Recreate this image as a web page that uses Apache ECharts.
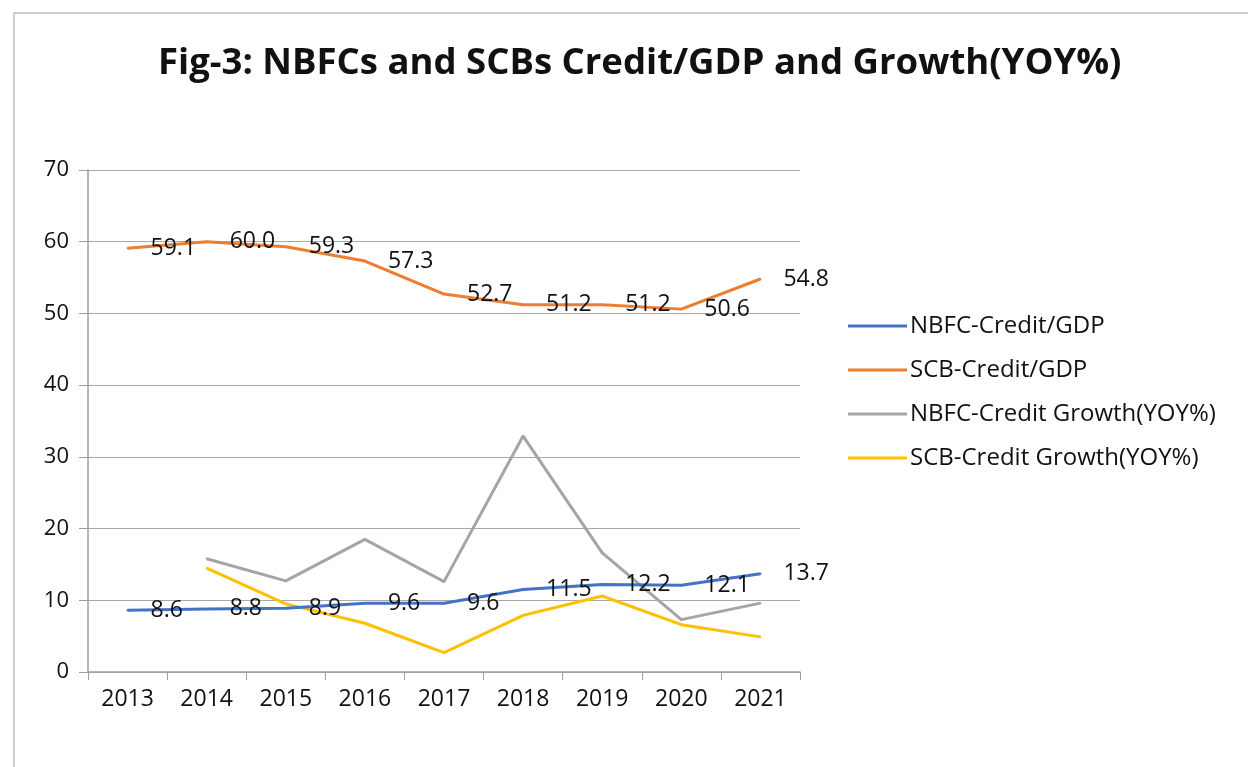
<!DOCTYPE html>
<html><head><meta charset="utf-8">
<script src="https://cdn.jsdelivr.net/npm/echarts@6/dist/echarts.min.js"></script>
<style>html,body{margin:0;padding:0;background:#fff}#c{width:1248px;height:767px}</style>
</head><body><div id="c"></div>
<script>
const years = ['2013','2014','2015','2016','2017','2018','2019','2020','2021'];
const nbfcCreditGdp = [8.6, 8.8, 8.9, 9.6, 9.6, 11.5, 12.2, 12.1, 13.7];
const scbCreditGdp = [59.1, 60.0, 59.3, 57.3, 52.7, 51.2, 51.2, 50.6, 54.8];
const nbfcGrowth = [null, 15.8, 12.7, 18.5, 12.6, 32.9, 16.6, 7.3, 9.6];
const scbGrowth = [null, 14.5, 9.5, 6.8, 2.7, 7.9, 10.6, 6.6, 4.9];
const seriesNames = ['NBFC-Credit/GDP','SCB-Credit/GDP','NBFC-Credit Growth(YOY%)','SCB-Credit Growth(YOY%)'];
const colors = ['#4472C4','#ED7D31','#A5A5A5','#FFC000'];
const FONT = '"Open Sans", "Liberation Sans", sans-serif';

const chart = echarts.init(document.getElementById('c'));
const lbl = {show:true, position:'right', distance:22, fontSize:23, color:'#111', fontFamily:FONT,
  formatter: p => Number(p.value).toFixed(1)};
function mk(i, data, label){
  return {name:seriesNames[i], type:'line', data:data,
    symbol:'circle', symbolSize:2, showSymbol:true, smooth:false,
    lineStyle:{width:3, color:colors[i]}, itemStyle:{color:colors[i]},
    label: label ? lbl : {show:false}, labelLayout:{hideOverlap:false},
    connectNulls:false, z: label?3:2};
}
chart.setOption({
  animation:false,
  backgroundColor:'#fff',
  graphic:[{type:'rect', shape:{x:14, y:13, width:1300, height:800}, style:{fill:'none', stroke:'#bdbdbd', lineWidth:1.5}}],
  title:{text:'Fig-3: NBFCs and SCBs Credit/GDP and Growth(YOY%)', left:153, top:40,
    textStyle:{fontFamily:FONT, fontWeight:'bold', fontSize:36.5, color:'#111'}},
  legend:{orient:'vertical', left:843, top:309, itemGap:20, itemWidth:59, itemHeight:3,
    icon:'rect', textStyle:{fontSize:24, fontFamily:FONT, color:'#111', padding:[0,0,0,-2]},
    data:seriesNames},
  grid:{left:88, right:448, top:170, bottom:95, containLabel:false},
  xAxis:{type:'category', data:years, boundaryGap:true,
    axisLine:{lineStyle:{color:'#9e9e9e', width:1.5}},
    axisTick:{show:true, length:8, lineStyle:{color:'#9e9e9e'}},
    axisLabel:{fontSize:23, color:'#111', fontFamily:FONT, margin:16}},
  yAxis:{type:'value', min:0, max:70, interval:10,
    axisLine:{show:true, lineStyle:{color:'#9e9e9e', width:1.5}},
    axisTick:{show:true, length:9, lineStyle:{color:'#9e9e9e'}},
    splitLine:{lineStyle:{color:'#a8a8a8', width:1.2}},
    axisLabel:{fontSize:22, color:'#111', fontFamily:FONT, margin:19}},
  series:[mk(0,nbfcCreditGdp,true), mk(1,scbCreditGdp,true), mk(2,nbfcGrowth,false), mk(3,scbGrowth,false)]
});
</script></body></html>
